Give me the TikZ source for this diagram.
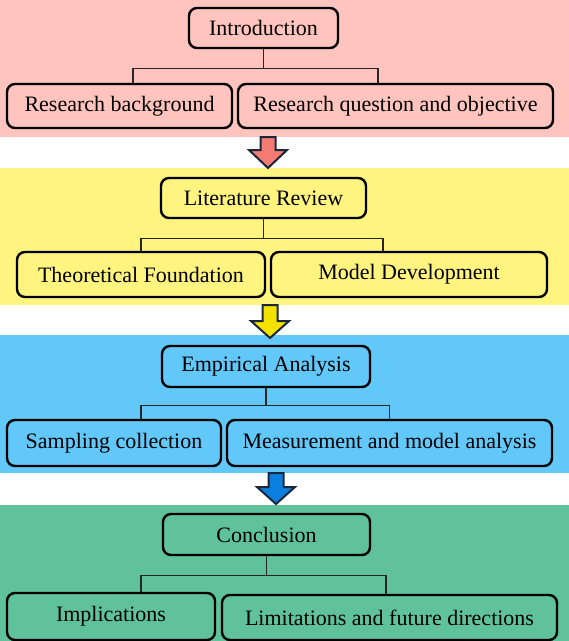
\documentclass[tikz,border=0pt]{standalone}
\usepackage{xcolor}
\usepackage{fontspec}
\setmainfont{Liberation Serif}

% block arrow pointing down: centre x, top y, head start y, tip y
\newcommand{\bigdownarrow}[5][]{%
  \draw[blockarrow,#1] (#2-7.5,#3) -- (#2+7.5,#3) -- (#2+7.5,#4) -- (#2+19,#4)
    -- (#2,#5) -- (#2-19,#4) -- (#2-7.5,#4) -- cycle;}

\begin{document}
\begin{tikzpicture}[x=1pt,y=-1pt,
  stepbox/.style={draw=black,line width=2.4pt,rounded corners=8pt,inner sep=0pt,
    font=\fontsize{22}{24}\selectfont,text=black},
  link/.style={draw=black!85,line width=1.3pt},
  blockarrow/.style={draw=cline,line width=2pt,line join=miter}]
\definecolor{cband1}{RGB}{255,196,189}
\definecolor{cband2}{RGB}{255,244,128}
\definecolor{cband3}{RGB}{98,199,249}
\definecolor{cband4}{RGB}{95,194,154}
\definecolor{carr1}{RGB}{244,124,115}
\definecolor{carr2}{RGB}{245,225,0}
\definecolor{carr3}{RGB}{10,127,224}
\definecolor{cline}{RGB}{26,40,58}
%
\useasboundingbox (0,0) rectangle (569,641);
\fill[white] (0,0) rectangle (569,641);
\fill[cband1] (0,0) rectangle (569,137);
\fill[cband2] (0,168) rectangle (569,305);
\fill[cband3] (0,335) rectangle (569,473);
\fill[cband4] (0,505) rectangle (569,641);
%
\node[stepbox,fill=cband1,minimum width=149pt,minimum height=40pt] (intro) at (263.5,28) {Introduction};
\node[stepbox,fill=cband1,minimum width=225pt,minimum height=44pt] (bg) at (119.5,106) {Research background};
\node[stepbox,fill=cband1,minimum width=315pt,minimum height=44pt] (question) at (395.5,106) {Research question and objective};
%
\node[stepbox,fill=cband2,minimum width=205pt,minimum height=40pt] (lit) at (263.5,198) {Literature Review};
\node[stepbox,fill=cband2,minimum width=248pt,minimum height=45pt] (theory) at (141,274.5) {Theoretical Foundation};
\node[stepbox,fill=cband2,minimum width=276pt,minimum height=45pt] (model) at (409,274.5) {Model Development};
%
\node[stepbox,fill=cband3,minimum width=208pt,minimum height=41pt] (emp) at (266,366.5) {Empirical Analysis};
\node[stepbox,fill=cband3,minimum width=214pt,minimum height=46pt] (sample) at (114,443) {Sampling collection};
\node[stepbox,fill=cband3,minimum width=325pt,minimum height=46pt] (measure) at (389.5,443) {Measurement and model analysis};
%
\node[stepbox,fill=cband4,minimum width=207pt,minimum height=41pt] (concl) at (266.5,534.5) {Conclusion};
\node[stepbox,fill=cband4,minimum width=208pt,minimum height=47pt] (impl) at (111,616.5) {Implications};
\node[stepbox,fill=cband4,minimum width=335pt,minimum height=45pt] (limit) at (389.5,617.5) {Limitations and future directions};
%
\draw[link] (intro.south) -- ++(0,19) -| ([xshift=13.5pt]bg.north);
\draw[link] (intro.south) -- ++(0,19) -| ([xshift=-17.5pt]question.north);
\draw[link] (lit.south) -- ++(0,19) -| (theory.north);
\draw[link] (lit.south) -- ++(0,19) -| ([xshift=-26pt]model.north);
\draw[link] (emp.south) -- ++(0,17) -| ([xshift=27pt]sample.north);
\draw[link] (emp.south) -- ++(0,17) -| (measure.north);
\draw[link] (concl.south) -- ++(0,19) -| ([xshift=30pt]impl.north);
\draw[link] (concl.south) -- ++(0,19) -| ([xshift=-3.5pt]limit.north);
%
\bigdownarrow[fill=carr1]{268}{137}{150}{168}
\bigdownarrow[fill=carr2]{270}{305}{321}{338}
\bigdownarrow[fill=carr3]{276}{473}{487}{504}
%
\end{tikzpicture}
\end{document}
